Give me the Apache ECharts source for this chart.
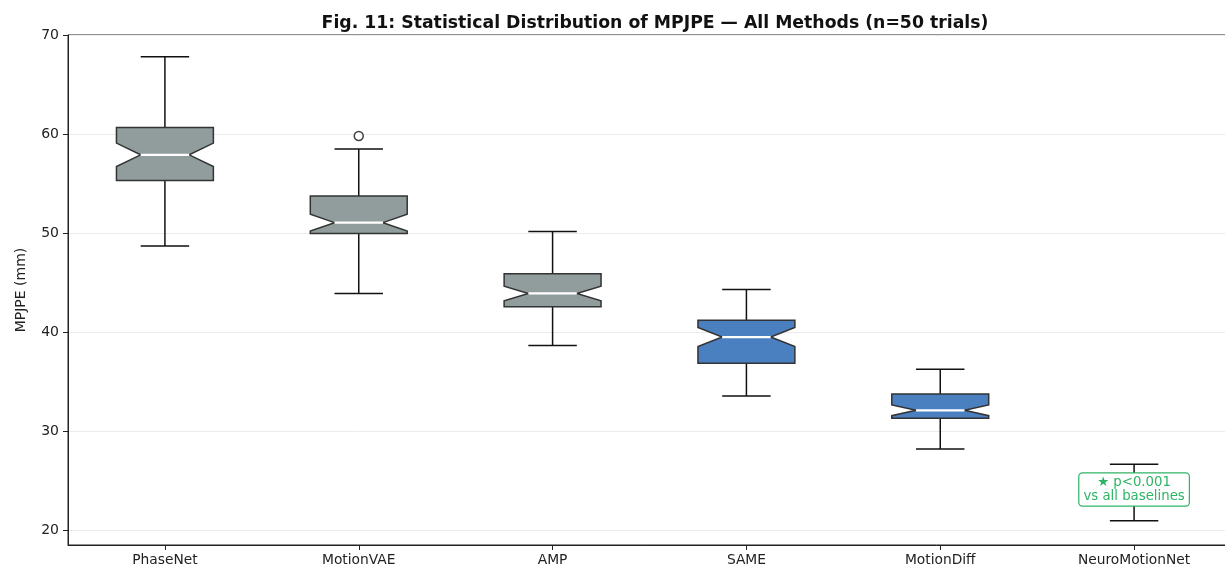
<!DOCTYPE html>
<html>
<head>
<meta charset="utf-8">
<script src="https://cdn.jsdelivr.net/npm/echarts@6/dist/echarts.min.js"></script>
<style>
  html, body { margin: 0; padding: 0; background: #fff; }
  #chart { width: 1225px; height: 567px; }
</style>
</head>
<body>
<div id="chart"></div>
<script>
// Methods compared
const methods = ['PhaseNet', 'MotionVAE', 'AMP', 'SAME', 'MotionDiff', 'NeuroMotionNet'];
// Five-number summaries per method: [lower whisker, Q1, median, Q3, upper whisker]
const lowerWhisker = [48.7, 43.9, 38.65, 33.55, 28.2, 20.95];
const q1Values     = [55.3, 49.95, 42.55, 36.85, 31.3, 22.9];
const medianValues = [57.9, 51.05, 43.9, 39.5, 32.1, 23.9];
const q3Values     = [60.65, 53.75, 45.9, 41.2, 33.75, 24.9];
const upperWhisker = [67.8, 58.5, 50.15, 44.3, 36.25, 26.65];
// Points beyond the whiskers: [category index, value]
const outliers = [[1, 59.8]];
// Trials per method (sets the notch half-width)
const trials = 50;
// Y ticks
const yTicks = [20, 30, 40, 50, 60, 70];

const boxColors = ['#919d9c', '#919d9c', '#919d9c', '#4a7fc0', '#4a7fc0', '#27ae60'];
const sigColor = '#2fb466';

const boxData = methods.map((m, i) => [i, lowerWhisker[i], q1Values[i], medianValues[i], q3Values[i], upperWhisker[i]]);

function renderBox(params, api) {
  const i = api.value(0);
  const lo = api.value(1), q1 = api.value(2), med = api.value(3), q3 = api.value(4), hi = api.value(5);
  const iqr = q3 - q1;
  const notch = 1.57 * iqr / Math.sqrt(trials);
  const nTop = med + notch, nBot = med - notch;
  const band = api.size([1, 0])[0];
  const half = band * 0.25;
  const indent = half * 0.5;
  const cx = api.coord([i, med])[0];
  const y = v => api.coord([i, v])[1];
  const L = cx - half, R = cx + half;
  const capHalf = half * 0.5;
  const lineStyle = { stroke: '#111', lineWidth: 1.5, fill: null };
  return {
    type: 'group',
    children: [
      { type: 'line', shape: { x1: cx, y1: y(q3), x2: cx, y2: y(hi) }, style: lineStyle },
      { type: 'line', shape: { x1: cx, y1: y(q1), x2: cx, y2: y(lo) }, style: lineStyle },
      { type: 'line', shape: { x1: cx - capHalf, y1: y(hi), x2: cx + capHalf, y2: y(hi) }, style: lineStyle },
      { type: 'line', shape: { x1: cx - capHalf, y1: y(lo), x2: cx + capHalf, y2: y(lo) }, style: lineStyle },
      {
        type: 'polygon',
        shape: {
          points: [
            [L, y(q3)], [R, y(q3)], [R, y(nTop)], [R - indent, y(med)], [R, y(nBot)],
            [R, y(q1)], [L, y(q1)], [L, y(nBot)], [L + indent, y(med)], [L, y(nTop)]
          ]
        },
        style: { fill: boxColors[i], stroke: '#333', lineWidth: 1.5, lineJoin: 'miter' }
      },
      { type: 'line', shape: { x1: L + indent, y1: y(med), x2: R - indent, y2: y(med) }, style: { stroke: '#fff', lineWidth: 2.2 } }
    ]
  };
}

const chart = echarts.init(document.getElementById('chart'), null, { renderer: 'canvas' });
chart.setOption({
  animation: false,
  backgroundColor: '#fff',
  title: {
    text: 'Fig. 11: Statistical Distribution of MPJPE — All Methods (n=50 trials)',
    left: 650, top: 10, textAlign: 'center',
    textStyle: { fontFamily: 'DejaVu Sans', fontSize: 17.3, fontWeight: 'bold', color: '#111' }
  },
  grid: {
    left: 68, width: 1163, top: 35, bottom: 22,
    outerBoundsMode: 'none',
    show: true, borderColor: '#222', borderWidth: 1, backgroundColor: 'transparent'
  },
  xAxis: {
    type: 'category',
    data: methods,
    boundaryGap: true,
    axisLine: { show: true, lineStyle: { color: '#222', width: 1 } },
    axisTick: { show: true, alignWithLabel: true, length: 5, lineStyle: { color: '#222' } },
    axisLabel: { fontFamily: 'DejaVu Sans', fontSize: 13.8, color: '#222', margin: 8 },
    splitLine: { show: false }
  },
  yAxis: {
    type: 'value',
    min: 18.5, max: 70,
    name: 'MPJPE (mm)',
    nameLocation: 'middle',
    nameGap: 40,
    nameTextStyle: { fontFamily: 'DejaVu Sans', fontSize: 14, color: '#222' },
    axisLine: { show: true, lineStyle: { color: '#222', width: 1 } },
    axisTick: { show: true, length: 5, customValues: yTicks, lineStyle: { color: '#222' } },
    axisLabel: { fontFamily: 'DejaVu Sans', fontSize: 14, color: '#222', margin: 9, customValues: yTicks },
    splitLine: { show: false }
  },
  series: [
    {
      // horizontal gridlines at the labelled ticks
      type: 'line', data: [], silent: true, z: 0,
      markLine: {
        silent: true, symbol: 'none', z: 0, label: { show: false },
        lineStyle: { color: '#ebebeb', width: 1, type: 'solid' },
        data: yTicks.map(v => ({ yAxis: v }))
      }
    },
    {
      type: 'custom',
      renderItem: renderBox,
      data: boxData,
      encode: { x: 0, y: [1, 2, 3, 4, 5] },
      z: 2
    },
    {
      type: 'scatter',
      data: outliers,
      symbol: 'circle',
      symbolSize: 9,
      itemStyle: { color: '#fff', borderColor: '#111', borderWidth: 1.5 },
      z: 3
    },
    {
      // significance note placed over the last method
      type: 'custom',
      data: [[5, 24.1]],
      z: 5,
      renderItem: function (params, api) {
        const p = api.coord([api.value(0), api.value(1)]);
        return {
          type: 'text',
          x: p[0], y: p[1],
          style: {
            text: '★ p<0.001\nvs all baselines',
            fontFamily: 'DejaVu Sans',
            fontSize: 13.3,
            lineHeight: 14,
            fill: sigColor,
            align: 'center',
            verticalAlign: 'middle',
            backgroundColor: '#fff',
            borderColor: sigColor,
            borderWidth: 1.2,
            borderRadius: 3,
            padding: [2, 4, 2, 4]
          }
        };
      }
    }
  ]
});
</script>
</body>
</html>
